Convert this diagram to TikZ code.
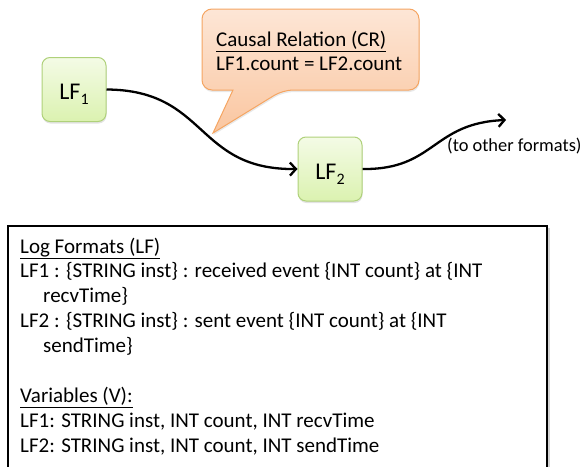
\documentclass[tikz,border=0pt]{standalone}
\usepackage{fontspec}
\setmainfont{Carlito}
\usetikzlibrary{arrows.meta,shadows}
\definecolor{lfborder}{HTML}{AFD17A}
\definecolor{lftop}{HTML}{F4FBE6}
\definecolor{lfbot}{HTML}{DBF2B0}
\definecolor{crborder}{HTML}{F5A562}
\definecolor{crtop}{HTML}{FDE6D6}
\definecolor{crbot}{HTML}{FAC6A0}
\newcommand\lfsub[1]{\raisebox{-5pt}{\fontsize{16}{16}\selectfont #1}}
\begin{document}
\begin{tikzpicture}[x=1pt,y=-1pt,
  lfbox/.style={draw=lfborder, line width=1pt, rounded corners=8pt,
    top color=lftop, bottom color=lfbot, minimum width=64pt, minimum height=64pt,
    inner sep=0pt, font=\fontsize{24}{24}\selectfont, text height=20pt, text depth=0pt,
    drop shadow={shadow xshift=0.5pt, shadow yshift=-2pt, opacity=0.22}},
  callout/.style={draw=crborder, line width=1pt, top color=crtop, bottom color=crbot,
    drop shadow={shadow xshift=0.5pt, shadow yshift=-2pt, opacity=0.18}},
  conn/.style={line width=2.3pt, -{Straight Barb[length=6pt,width=13pt]}},
  txt/.style={anchor=base west, inner sep=0pt, font=\fontsize{21}{25}\selectfont},
  small/.style={anchor=base west, inner sep=0pt, font=\fontsize{18.4}{22}\selectfont},
  panel/.style={draw=black, line width=2pt, fill=white,
    drop shadow={shadow xshift=2.5pt, shadow yshift=-1.5pt, opacity=0.35}}
]
\path[use as bounding box] (0,0) rectangle (583,466);
\clip (0,0) rectangle (583,466);

% callout
\draw[callout] (202,50) [rounded corners=10pt] -- (202,9) -- (419,9) -- (419,90)
  -- (283,90) [sharp corners] -- (213,133) -- (233,90) [rounded corners=10pt] -- (202,90) -- cycle;
\node[txt] (cr1) at (216,46.5) {\underline{Causal Relation (CR)}};
\node[txt] (cr2) at (216,70) {LF1.count = LF2.count};

% log format nodes
\node[lfbox] (lf1) at (74,89.5) {LF\lfsub{1}};
\node[lfbox] (lf2) at (330,169) {LF\lfsub{2}};
\coordinate (other) at (506,120);

\draw[conn] (lf1.east) .. controls (208,90) and (195,170) .. (lf2.west);
\draw[conn] (lf2.east) .. controls (435,170) and (432,123) .. (other);
\node[small] (othertxt) at (447,151) {(to other formats)};

% lower panel
\draw[panel] (8,226) rectangle (547,490);
\node[txt] (t1) at (20,253) {\underline{Log Formats (LF)}};
\node[txt] (t2) at (20,277.9) {LF1 : \{STRING inst\} : received event \{INT count\} at \{INT};
\node[txt] (t3) at (43,302.8) {recvTime\}};
\node[txt] (t4) at (20,327.7) {LF2 : \{STRING inst\} : sent event \{INT count\} at \{INT};
\node[txt] (t5) at (43,352.6) {sendTime\}};
\node[txt] (t6) at (20,402.4) {\underline{Variables (V):}};
\node[txt] (t7) at (20,427.3) {LF1: STRING inst, INT count, INT recvTime};
\node[txt] (t8) at (20,452.2) {LF2: STRING inst, INT count, INT sendTime};
\end{tikzpicture}
\end{document}
